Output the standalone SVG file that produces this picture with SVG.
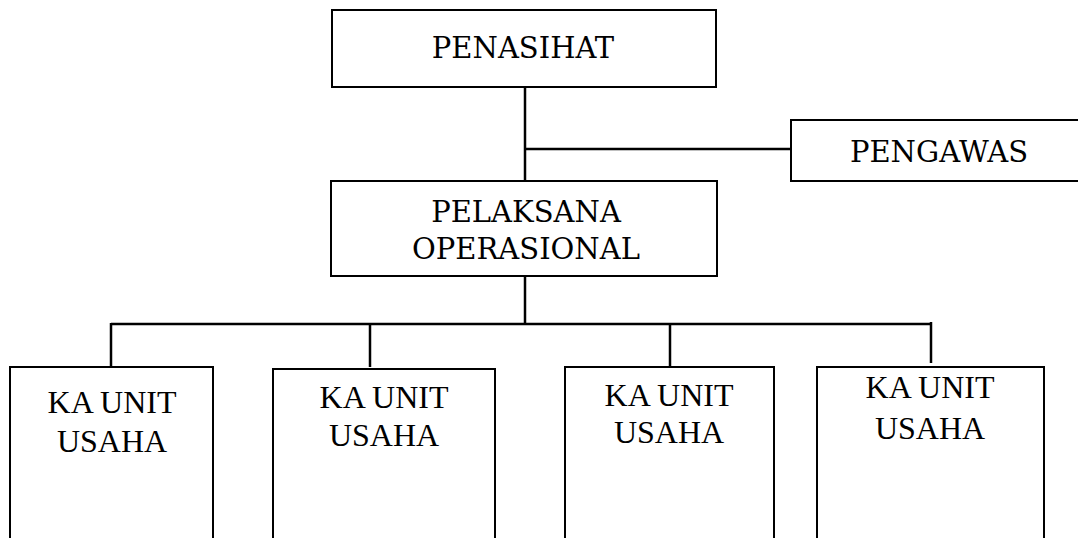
<svg xmlns="http://www.w3.org/2000/svg" width="1078" height="538" viewBox="0 0 1078 538">
<style>
.box{fill:#fff;stroke:#000;stroke-width:2}
.ln{stroke:#000;stroke-width:2.5;fill:none}
.t1{font-family:'DejaVu Serif',serif;font-size:29px;fill:#000;text-anchor:middle}
.t2{font-family:'Liberation Serif','Noto Serif',serif;font-size:32px;fill:#000;text-anchor:middle}
</style>
<rect width="1078" height="538" fill="#fff"/>
<g id="connectors">
<path class="ln" d="M525,88 V181"/>
<path class="ln" d="M525,149 H791"/>
<path class="ln" d="M525,276 V324"/>
<path class="ln" d="M111,324 H931"/>
<path class="ln" d="M111,323 V367"/>
<path class="ln" d="M370,324 V367"/>
<path class="ln" d="M670,324 V367"/>
<path class="ln" d="M931,322 V363"/>
</g>
<g id="penasihat">
<rect class="box" x="332" y="10" width="384" height="77"/>
<text class="t1" x="523" y="58">PENASIHAT</text>
</g>
<g id="pengawas">
<rect class="box" x="791" y="120" width="300" height="61"/>
<text class="t1" x="939" y="162">PENGAWAS</text>
</g>
<g id="pelaksana">
<rect class="box" x="331" y="181" width="386" height="95"/>
<text class="t1" x="526" y="222">PELAKSANA</text>
<text class="t1" x="526" y="259">OPERASIONAL</text>
</g>
<g id="unit1">
<rect class="box" x="10" y="367" width="203" height="190"/>
<text class="t2" x="112" y="413">KA UNIT</text>
<text class="t2" x="112" y="452">USAHA</text>
</g>
<g id="unit2">
<rect class="box" x="273" y="369" width="222" height="190"/>
<text class="t2" x="384" y="408">KA UNIT</text>
<text class="t2" x="384" y="446">USAHA</text>
</g>
<g id="unit3">
<rect class="box" x="565" y="367" width="209" height="190"/>
<text class="t2" x="669" y="406">KA UNIT</text>
<text class="t2" x="669" y="443">USAHA</text>
</g>
<g id="unit4">
<rect class="box" x="817" y="367" width="227" height="190"/>
<text class="t2" x="930" y="398">KA UNIT</text>
<text class="t2" x="930" y="439">USAHA</text>
</g>
</svg>
